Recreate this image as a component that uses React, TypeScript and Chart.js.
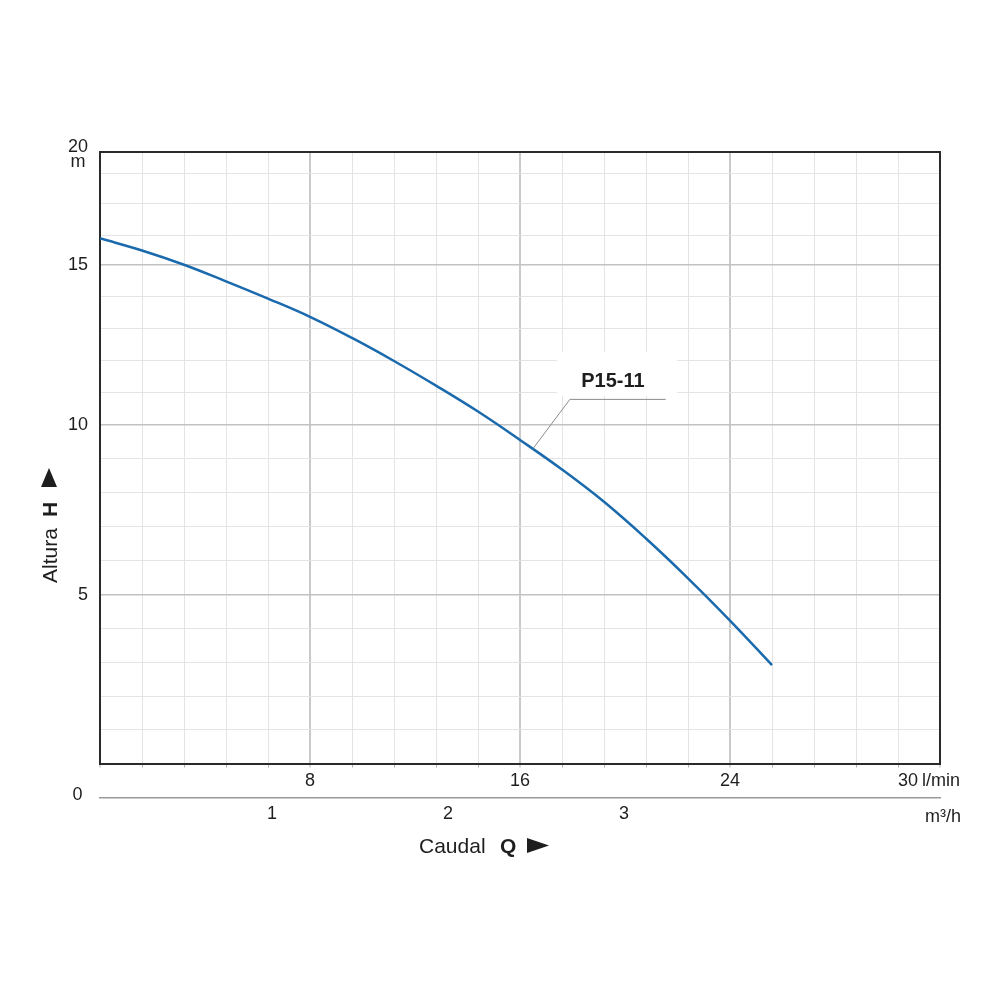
import React, { useEffect, useRef } from "react";
import { Chart, registerables, LinearScale } from "chart.js";

Chart.register(...registerables);

// ---- data ----
const seriesName = "P15-11";
const flowLmin = [0, 1.6, 3.2, 4.8, 6.4, 8, 9.6, 11.2, 12.8, 14.4, 16, 17.6, 19.2, 20.8, 22.4, 24, 25.6];
const headM = [15.92, 15.5, 15.01, 14.49, 13.95, 13.38, 12.72, 12.0, 11.23, 10.42, 9.56, 8.69, 7.74, 6.66, 5.49, 4.24, 2.92];
const flowTickLabels = [8, 16, 24];
const headTickLabels = [5, 10, 15];
const m3hTicks = [1, 2, 3];

// ---- axis ranges ----
const FLOW_MAX = 32;
const FLOW_STEP = 1.6;
const HEAD_MAX = 18.7;
const M3H_MIN = 0.023;
const M3H_MAX = 4.795;

// calibration of the (hand-drawn) head axis of the original sheet
const HEAD_BREAKS = [0, 5, 10, 15, 16, 17, 18, 18.7];
const HEAD_DECIMALS = [0, 0.2756, 0.5536, 0.8152, 0.8627, 0.915, 0.9656, 1];

function interp(v: number, xs: number[], ys: number[]) {
  if (v <= xs[0]) {
    return ys[0] + ((v - xs[0]) * (ys[1] - ys[0])) / (xs[1] - xs[0]);
  }
  for (let i = 1; i < xs.length; i++) {
    if (v <= xs[i]) {
      return ys[i - 1] + ((v - xs[i - 1]) * (ys[i] - ys[i - 1])) / (xs[i] - xs[i - 1]);
    }
  }
  const n = xs.length - 1;
  return ys[n] + ((v - xs[n]) * (ys[n] - ys[n - 1])) / (xs[n] - xs[n - 1]);
}

class HeadScale extends LinearScale {
  static id = "headScale";
  static defaults = LinearScale.defaults;
  getPixelForValue(value: any) {
    if (value === null || value === undefined || isNaN(value)) return NaN;
    return this.getPixelForDecimal(interp(+value, HEAD_BREAKS, HEAD_DECIMALS));
  }
  getValueForPixel(pixel: number) {
    return interp(this.getDecimalForPixel(pixel), HEAD_DECIMALS, HEAD_BREAKS);
  }
}
Chart.register(HeadScale as any);

const FONT = "'Liberation Sans', Arial, Helvetica, sans-serif";
const TEXT = "#1e1e1e";
const FRAME = "#2a2a2a";
const CURVE = "#1a6aad";

const annotationPlugin = {
  id: "sheetAnnotations",
  afterDraw(chart: any) {
    const { ctx, chartArea: a, scales } = chart;
    const xs = scales.x;
    const ys = scales.y;
    ctx.save();

    // frame top / right
    ctx.strokeStyle = FRAME;
    ctx.lineWidth = 2;
    ctx.beginPath();
    ctx.moveTo(a.left - 1, a.top);
    ctx.lineTo(a.right, a.top);
    ctx.lineTo(a.right, a.bottom + 1);
    ctx.stroke();

    // series label box + leader
    const tx = xs.getPixelForValue(19.54);
    const ty = ys.getPixelForValue(11.37);
    ctx.fillStyle = "#ffffff";
    ctx.fillRect(tx - 56, ty - 29, 120, 44);
    ctx.strokeStyle = "#8a8a8a";
    ctx.lineWidth = 1;
    ctx.beginPath();
    ctx.moveTo(xs.getPixelForValue(16.5), ys.getPixelForValue(9.31));
    ctx.lineTo(xs.getPixelForValue(17.9), ys.getPixelForValue(10.8));
    ctx.lineTo(xs.getPixelForValue(21.55), ys.getPixelForValue(10.8));
    ctx.stroke();
    ctx.fillStyle = TEXT;
    ctx.font = `bold 20px ${FONT}`;
    ctx.textAlign = "center";
    ctx.textBaseline = "alphabetic";
    ctx.fillText(seriesName, tx, ty + 6);

    // axis end labels
    ctx.font = `18px ${FONT}`;
    ctx.textAlign = "right";
    ctx.fillText("20", 88, 152);
    ctx.textAlign = "center";
    ctx.fillText("m", 78, 167);
    ctx.fillText("0", 77.5, 800);
    ctx.textAlign = "right";
    ctx.fillText("30", 918, 786);
    ctx.textAlign = "left";
    ctx.fillText("l/min", 922, 786);
    ctx.fillText("m³/h", 925, 822);

    // x title
    ctx.font = `21px ${FONT}`;
    ctx.fillText("Caudal", 419, 852.5);
    ctx.font = `bold 21px ${FONT}`;
    ctx.fillText("Q", 500, 852.5);
    ctx.beginPath();
    ctx.moveTo(527, 838);
    ctx.lineTo(549, 845.5);
    ctx.lineTo(527, 853);
    ctx.closePath();
    ctx.fill();

    // y title (rotated)
    ctx.save();
    ctx.translate(57, 583);
    ctx.rotate(-Math.PI / 2);
    ctx.font = `21px ${FONT}`;
    ctx.fillText("Altura", 0, 0);
    ctx.font = `bold 21px ${FONT}`;
    ctx.fillText("H", 66, 0);
    ctx.restore();
    ctx.beginPath();
    ctx.moveTo(41, 487);
    ctx.lineTo(57, 487);
    ctx.lineTo(49, 468);
    ctx.closePath();
    ctx.fill();

    ctx.restore();
  },
};

export default function App() {
  const ref = useRef<HTMLCanvasElement | null>(null);

  useEffect(() => {
    if (!ref.current) return;
    Chart.defaults.font.family = FONT;
    Chart.defaults.color = TEXT;

    const points = flowLmin.map((q, i) => ({ x: q, y: headM[i] }));

    const chart = new Chart(ref.current, {
      type: "line",
      data: {
        datasets: [
          {
            label: seriesName,
            data: points,
            borderColor: CURVE,
            backgroundColor: CURVE,
            borderWidth: 2.5,
            pointRadius: 0,
            tension: 0.4,
            fill: false,
          },
        ],
      },
      options: {
        responsive: false,
        animation: false,
        events: [],
        layout: { padding: { top: 152, right: 60, left: 0, bottom: 0 } },
        plugins: {
          legend: { display: false },
          tooltip: { enabled: false },
        },
        scales: {
          x: {
            type: "linear",
            position: "bottom",
            weight: 0,
            min: 0,
            max: FLOW_MAX,
            afterFit: (s: any) => {
              s.height = 34.5;
            },
            ticks: {
              stepSize: FLOW_STEP,
              autoSkip: false,
              maxRotation: 0,
              padding: 3,
              font: { size: 18 },
              color: TEXT,
              callback: (v: any) => (flowTickLabels.includes(Number(v)) ? String(v) : ""),
            },
            grid: {
              color: (c: any) =>
                c.tick && Math.abs(c.tick.value % 8) < 1e-6 ? "#c9c9c9" : "#e4e4e4",
              lineWidth: (c: any) =>
                c.tick && Math.abs(c.tick.value % 8) < 1e-6 ? 2 : 1,
              tickColor: "#b0b0b0",
              tickWidth: 1,
              tickLength: 4,
            },
            border: { display: true, color: FRAME, width: 2 },
          },
          x2: {
            type: "linear",
            position: "bottom",
            weight: 1,
            min: M3H_MIN,
            max: M3H_MAX,
            afterFit: (s: any) => {
              s.height = 202;
            },
            afterBuildTicks: (s: any) => {
              s.ticks = m3hTicks.map((v) => ({ value: v }));
            },
            ticks: {
              autoSkip: false,
              maxRotation: 0,
              padding: 5,
              font: { size: 18 },
              color: TEXT,
              callback: (v: any) => String(v),
            },
            grid: {
              display: true,
              drawOnChartArea: false,
              drawTicks: false,
              color: "rgba(0,0,0,0)",
            },
            border: { display: true, color: "#9a9a9a", width: 1.5 },
          },
          y: {
            type: "headScale" as any,
            min: 0,
            max: HEAD_MAX,
            afterFit: (s: any) => {
              s.width = 100;
            },
            ticks: {
              stepSize: 1,
              includeBounds: false,
              autoSkip: false,
              padding: 12,
              font: { size: 18 },
              color: TEXT,
              callback: (v: any) => (headTickLabels.includes(Number(v)) ? String(v) : ""),
            },
            grid: {
              drawTicks: false,
              color: (c: any) =>
                c.tick && c.tick.value > 0 && c.tick.value % 5 === 0 ? "#c2c2c2" : "#e4e4e4",
              lineWidth: (c: any) =>
                c.tick && c.tick.value > 0 && c.tick.value % 5 === 0 ? 1.5 : 1,
            },
            border: { display: true, color: FRAME, width: 2 },
          },
        },
      } as any,
      plugins: [annotationPlugin],
    });

    return () => chart.destroy();
  }, []);

  return (
    <div style={{ position: "absolute", left: 0, top: 0, width: 1000, height: 1000, background: "#fff" }}>
      <canvas ref={ref} width={1000} height={1000} style={{ display: "block" }} />
    </div>
  );
}
